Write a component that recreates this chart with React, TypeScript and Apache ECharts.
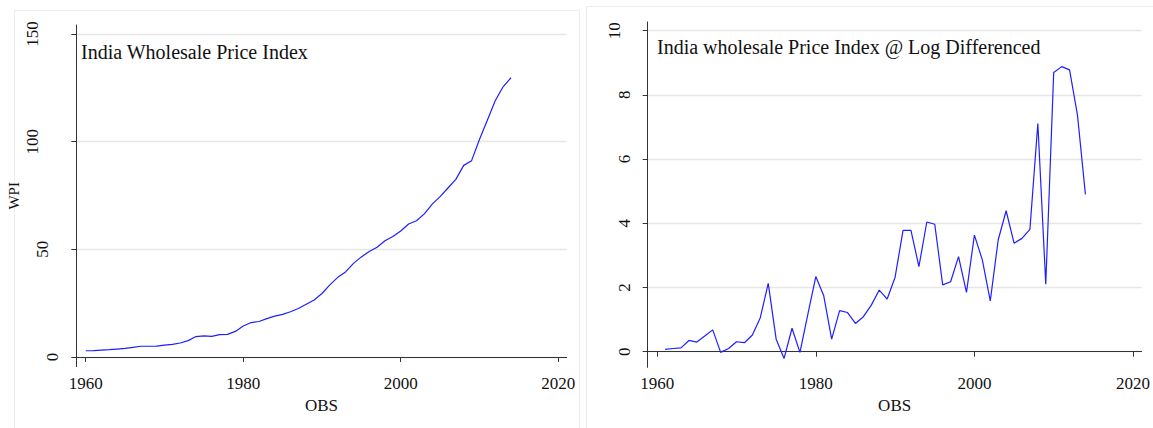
import React, { useEffect, useRef } from "react";
import * as echarts from "echarts";

// ---------- data ----------
const years = [
  1960, 1961, 1962, 1963, 1964, 1965, 1966, 1967, 1968, 1969,
  1970, 1971, 1972, 1973, 1974, 1975, 1976, 1977, 1978, 1979,
  1980, 1981, 1982, 1983, 1984, 1985, 1986, 1987, 1988, 1989,
  1990, 1991, 1992, 1993, 1994, 1995, 1996, 1997, 1998, 1999,
  2000, 2001, 2002, 2003, 2004, 2005, 2006, 2007, 2008, 2009,
  2010, 2011, 2012, 2013, 2014,
];
const wpi = [
  2.9, 3.0, 3.2, 3.4, 3.7, 4.0, 4.5, 5.0, 5.0, 5.1,
  5.5, 5.9, 6.5, 7.6, 9.5, 9.8, 9.6, 10.4, 10.5, 11.9,
  14.4, 16.0, 16.5, 17.8, 19.0, 19.8, 21.0, 22.5, 24.5, 26.5,
  29.5, 33.5, 37.0, 39.5, 43.5, 46.5, 49.0, 51.0, 54.0, 56.0,
  58.5, 61.8, 63.3, 66.5, 71.0, 74.5, 78.5, 82.5, 89.0, 91.2,
  101.0, 110.0, 119.0, 125.5, 129.7,
];
const diffYears = [
  1961, 1962, 1963, 1964, 1965, 1966, 1967, 1968, 1969,
  1970, 1971, 1972, 1973, 1974, 1975, 1976, 1977, 1978, 1979,
  1980, 1981, 1982, 1983, 1984, 1985, 1986, 1987, 1988, 1989,
  1990, 1991, 1992, 1993, 1994, 1995, 1996, 1997, 1998, 1999,
  2000, 2001, 2002, 2003, 2004, 2005, 2006, 2007, 2008, 2009,
  2010, 2011, 2012, 2013, 2014,
];
const logDiff = [
  0.07, 0.10, 0.12, 0.35, 0.30, 0.49, 0.68, -0.02, 0.10,
  0.31, 0.28, 0.52, 1.06, 2.13, 0.39, -0.21, 0.73, -0.02, 1.17,
  2.34, 1.74, 0.39, 1.28, 1.22, 0.88, 1.09, 1.45, 1.92, 1.64,
  2.32, 3.78, 3.78, 2.65, 4.04, 3.97, 2.08, 2.18, 2.96, 1.85,
  3.63, 2.86, 1.58, 3.48, 4.39, 3.38, 3.53, 3.81, 7.11, 2.10,
  8.70, 8.88, 8.78, 7.37, 4.90,
];
const xTicks = [1960, 1980, 2000, 2020];
const wpiTicks = [0, 50, 100, 150];
const diffTicks = [0, 2, 4, 6, 8, 10];

const leftTitle = "India Wholesale Price Index";
const rightTitle = "India wholesale Price Index @ Log Differenced";

// ---------- styling ----------
const FONT = "'Liberation Serif', 'Times New Roman', serif";
const INK = "#111";
const AXIS = "#333";
const GRID = "#e6e6e6";
const LINE = "#1f1fff";

const yRich = {
  l1: { fontSize: 17, fontFamily: FONT, color: INK, padding: [0, 0, 0, 0] },
  l2: { fontSize: 17, fontFamily: FONT, color: INK, padding: [0, 0, 10, 0] },
  l3: { fontSize: 17, fontFamily: FONT, color: INK, padding: [0, 0, 20, 0] },
};

function xAxisCfg(gridIndex: number) {
  return {
    type: "value",
    gridIndex,
    min: 1958.8,
    max: 2021.08,
    name: "OBS",
    nameLocation: "middle",
    nameGap: 30,
    nameTextStyle: { fontSize: 17, fontFamily: FONT, color: INK },
    axisLine: { show: true, lineStyle: { color: AXIS, width: 1 } },
    axisTick: { show: true, length: 5, customValues: xTicks, lineStyle: { color: AXIS } },
    axisLabel: {
      customValues: xTicks,
      fontSize: 17,
      fontFamily: FONT,
      color: INK,
      margin: 8,
      formatter: (v: number) => String(v),
    },
    splitLine: { show: false },
  };
}

function yAxisCfg(gridIndex: number, min: number, max: number, ticks: number[], name: string) {
  return {
    type: "value",
    gridIndex,
    min,
    max,
    name,
    nameLocation: "middle",
    nameGap: 55,
    nameTextStyle: { fontSize: 15, fontFamily: FONT, color: INK },
    axisLine: { show: true, lineStyle: { color: AXIS, width: 1 } },
    axisTick: { show: true, length: 5, customValues: ticks, lineStyle: { color: AXIS } },
    axisLabel: {
      customValues: ticks,
      rotate: 90,
      margin: 15,
      fontSize: 17,
      fontFamily: FONT,
      color: INK,
      formatter: (v: number) => {
        const s = String(v);
        return `{l${s.length}|${s}}`;
      },
      rich: yRich,
    },
    splitLine: { show: true, lineStyle: { color: GRID, width: 1.3 } },
  };
}

export default function App() {
  const ref = useRef<HTMLDivElement>(null);

  useEffect(() => {
    if (!ref.current) return;
    const chart = echarts.init(ref.current, undefined, { renderer: "svg" });
    const option = {
      animation: false,
      backgroundColor: "#ffffff",
      title: [
        {
          text: leftTitle,
          left: 81,
          top: 41.5,
          padding: 0,
          textStyle: { fontSize: 20, fontFamily: FONT, color: INK, fontWeight: "normal" },
        },
        {
          text: rightTitle,
          left: 657,
          top: 37,
          padding: 0,
          textStyle: { fontSize: 20, fontFamily: FONT, color: INK, fontWeight: "normal" },
        },
      ],
      graphic: [
        {
          type: "rect",
          shape: { x: 14.5, y: 10.5, width: 565, height: 440 },
          style: { fill: "none", stroke: "#ececec", lineWidth: 1 },
          silent: true,
          z: -10,
        },
        {
          type: "rect",
          shape: { x: 586.5, y: 6.5, width: 580, height: 440 },
          style: { fill: "none", stroke: "#ececec", lineWidth: 1 },
          silent: true,
          z: -10,
        },
      ],
      grid: [
        { left: 76.3, top: 25, width: 490.4, height: 341.7, containLabel: false },
        { left: 647.7, top: 22, width: 496.6, height: 345.3, containLabel: false },
      ],
      xAxis: [xAxisCfg(0), xAxisCfg(1)],
      yAxis: [
        yAxisCfg(0, -4.5, 154.2, wpiTicks, "WPI"),
        yAxisCfg(1, -0.486, 10.27, diffTicks, ""),
      ],
      series: [
        {
          type: "line",
          xAxisIndex: 0,
          yAxisIndex: 0,
          data: years.map((y, i) => [y, wpi[i]]),
          showSymbol: false,
          lineStyle: { color: LINE, width: 1.2 },
          itemStyle: { color: LINE },
        },
        {
          type: "line",
          xAxisIndex: 1,
          yAxisIndex: 1,
          data: diffYears.map((y, i) => [y, logDiff[i]]),
          showSymbol: false,
          lineStyle: { color: LINE, width: 1.2 },
          itemStyle: { color: LINE },
        },
      ],
    };
    chart.setOption(option as any);
    return () => chart.dispose();
  }, []);

  return (
    <div
      ref={ref}
      style={{ position: "absolute", left: 0, top: 0, width: 1153, height: 428, background: "#fff" }}
    />
  );
}
